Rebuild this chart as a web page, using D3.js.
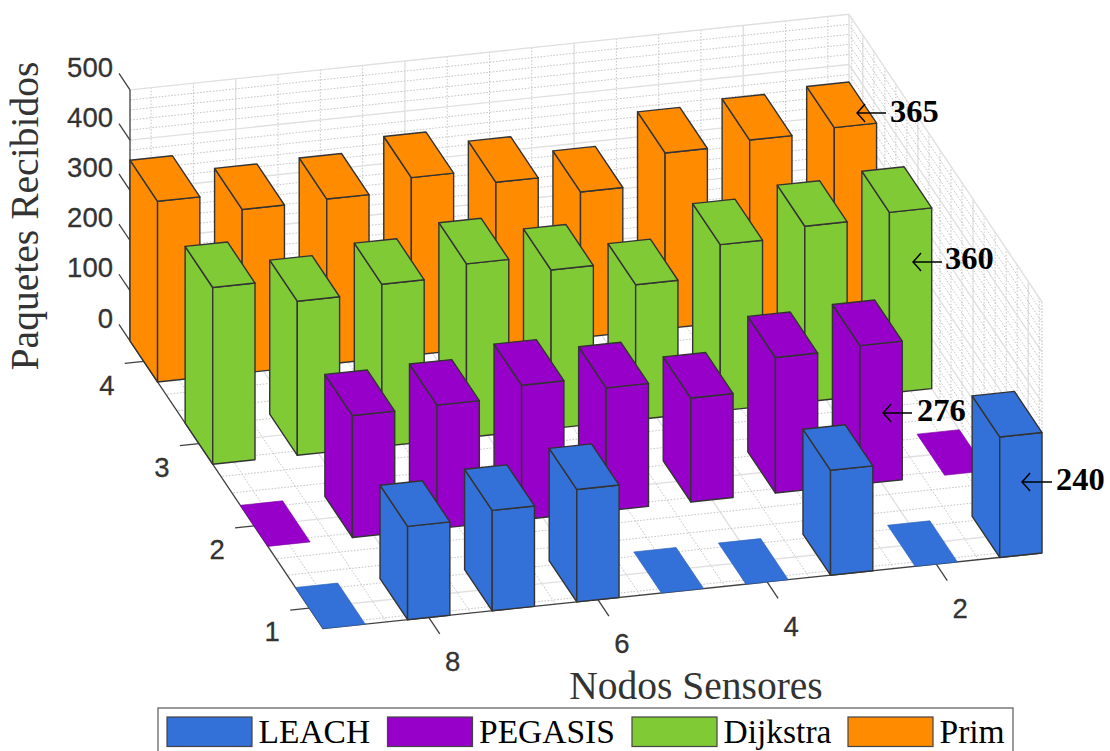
<!DOCTYPE html>
<html>
<head>
<meta charset="utf-8">
<script src="https://d3js.org/d3.v7.min.js"></script>
<style>
  html, body { margin: 0; padding: 0; background: #fff; overflow: hidden; }
  svg { display: block; }
</style>
</head>
<body>
<div class="chart"></div>
<script>
// Data, columns run x = 1..9 (right to left in the picture)
const xCategories = [1, 2, 3, 4, 5, 6, 7, 8, 9];
const xTickLabels = [2, 4, 6, 8];
const yTickLabels = [1, 2, 3, 4];
const zTickLabels = [0, 100, 200, 300, 400, 500];
const seriesNames = ["LEACH", "PEGASIS", "Dijkstra", "Prim"];
const leach    = [240, 0, 209, 0, 0, 224, 200, 186, 0];
const pegasis  = [0, 276, 270, 207, 245, 268, 246, 243, 0];
const dijkstra = [360, 350, 331, 269, 316, 346, 323, 307, 352];
const prim     = [365, 358, 350, 290, 327, 354, 329, 326, 360];
const notes    = ["365", "360", "276", "240"];

const colors = ["#3371d8", "#9700c8", "#80cb35", "#ff8c00"];
const edge = "#333";
const width = 1110, height = 751;

// Oblique projection, three scales give the screen offset of each data axis
const ox = 1042, oy = 553;
const xToPx = d3.scaleLinear().domain([0.75, 9.25]).range([0, -719]);
const xToPy = d3.scaleLinear().domain([0.75, 9.25]).range([0, 75.6]);
const yToPx = d3.scaleLinear().domain([0.75, 4.25]).range([0, -193]);
const yToPy = d3.scaleLinear().domain([0.75, 4.25]).range([0, -287.7]);
const zToPy = d3.scaleLinear().domain([0, 500]).range([0, -251]);

const project = (x, y, z) => [ox + xToPx(x) + yToPx(y), oy + xToPy(x) + yToPy(y) + zToPy(z)];
const poly = d3.line();

const svg = d3.select(".chart").append("svg")
    .attr("width", width)
    .attr("height", height);

// Grid on floor, back wall and side wall
const grid = svg.append("g").attr("fill", "none");

function gridLine(a, b, major) {
    grid.append("path")
        .attr("d", poly([a, b]))
        .attr("stroke", major ? "#e0e0e0" : "#c6c6c6")
        .attr("stroke-width", major ? 1.4 : 1)
        .attr("stroke-dasharray", major ? null : "1.6,1.6");
}

const xGrid = d3.range(1, 9.25, 0.5);
const yGrid = d3.range(0.8, 4.25, 0.2).map(d => Math.round(d * 10) / 10);
const zGrid = d3.range(0, 501, 20);

xGrid.forEach(x => {
    const major = x % 2 === 0;
    gridLine(project(x, 0.75, 0), project(x, 4.25, 0), major);
    gridLine(project(x, 4.25, 0), project(x, 4.25, 500), major);
});
yGrid.forEach(y => {
    const major = Number.isInteger(y);
    gridLine(project(0.75, y, 0), project(9.25, y, 0), major);
    gridLine(project(0.75, y, 0), project(0.75, y, 500), major);
});
zGrid.forEach(z => {
    const major = z % 100 === 0;
    gridLine(project(9.25, 4.25, z), project(0.75, 4.25, z), major);
    gridLine(project(0.75, 4.25, z), project(0.75, 0.75, z), major);
});
gridLine(project(0.75, 4.25, 0), project(0.75, 4.25, 500), true);
gridLine(project(0.75, 0.75, 0), project(0.75, 0.75, 500), false);

// Axis lines and ticks
const axis = svg.append("g").attr("fill", "none").attr("stroke", "#404040").attr("stroke-width", 1.3);
axis.append("path").attr("d", poly([project(0.75, 0.75, 0), project(9.25, 0.75, 0), project(9.25, 4.25, 0), project(9.25, 4.25, 500)]));

const tickLabel = svg.append("g")
    .attr("font-family", "'Liberation Sans', Arial, sans-serif")
    .attr("font-size", 27.5)
    .attr("fill", "#333")
    .attr("stroke", "#333")
    .attr("stroke-width", 0.3);

zTickLabels.forEach(z => {
    const p = project(9.25, 4.25, z);
    axis.append("path").attr("d", poly([p, project(9.25, 4.45, z)]));
    tickLabel.append("text").attr("x", p[0] - 17).attr("y", p[1] - 23).attr("dy", "0.35em")
        .attr("text-anchor", "end").text(z);
});
yTickLabels.forEach(y => {
    const p = project(9.25, y, 0);
    axis.append("path").attr("d", poly([p, project(9.475, y, 0)]));
    tickLabel.append("text").attr("x", p[0] - 37).attr("y", p[1] + 23.5).attr("dy", "0.35em")
        .attr("text-anchor", "middle").text(y);
});
xTickLabels.forEach(x => {
    const p = project(x, 0.75, 0);
    axis.append("path").attr("d", poly([p, project(x, 0.55, 0)]));
    tickLabel.append("text").attr("x", p[0] + 24).attr("y", p[1] + 44).attr("dy", "0.35em")
        .attr("text-anchor", "middle").text(x);
});

// Bars, back row first so the front rows cover it
const half = 0.25;
const rows = [leach, pegasis, dijkstra, prim];
const bars = [];
rows.forEach((values, i) => {
    values.forEach((v, j) => bars.push({ row: i + 1, col: xCategories[j], value: v, color: colors[i] }));
});
bars.sort((a, b) => b.row - a.row || a.col - b.col);

const bar = svg.selectAll(".bar")
    .data(bars)
    .enter().append("g")
    .attr("class", "bar")
    .attr("fill", d => d.color)
    .attr("stroke", d => d.value > 0 ? edge : d3.color(d.color).darker(0.6))
    .attr("stroke-width", d => d.value > 0 ? 1.4 : 0.6)
    .attr("stroke-linejoin", "round");

const facePoints = {
    top: d => [project(d.col - half, d.row - half, d.value), project(d.col + half, d.row - half, d.value),
               project(d.col + half, d.row + half, d.value), project(d.col - half, d.row + half, d.value)],
    front: d => [project(d.col - half, d.row - half, 0), project(d.col + half, d.row - half, 0),
                 project(d.col + half, d.row - half, d.value), project(d.col - half, d.row - half, d.value)],
    side: d => [project(d.col + half, d.row - half, 0), project(d.col + half, d.row + half, 0),
                project(d.col + half, d.row + half, d.value), project(d.col + half, d.row - half, d.value)]
};
["side", "front", "top"].forEach(face => {
    bar.filter(d => d.value > 0 || face === "top")
        .append("path")
        .attr("d", d => poly(facePoints[face](d)) + "Z");
});

// Axis titles
const serif = "'Liberation Serif', 'Times New Roman', serif";
svg.append("text")
    .attr("transform", "translate(38,216) rotate(-90)")
    .attr("text-anchor", "middle")
    .attr("font-family", serif)
    .attr("font-size", 39.6)
    .attr("fill", "#333")
    .text("Paquetes Recibidos");
svg.append("text")
    .attr("x", 696).attr("y", 699)
    .attr("text-anchor", "middle")
    .attr("font-family", serif)
    .attr("font-size", 39.5)
    .attr("fill", "#333")
    .text("Nodos Sensores");

// Value callouts
const noteX = [890, 945, 917, 1056], noteY = [122, 269, 421, 490];
const tipX = [857, 913, 883, 1022], tailX = [886, 942, 912, 1052], tipY = [113, 262, 413, 482];
const note = svg.append("g");
notes.forEach((t, i) => {
    note.append("text")
        .attr("x", noteX[i]).attr("y", noteY[i])
        .attr("font-family", serif).attr("font-weight", "bold").attr("font-size", 32.5)
        .attr("fill", "#000").text(t);
    const tx = tipX[i], ty = tipY[i];
    note.append("path")
        .attr("d", `M${tailX[i]},${ty}H${tx}M${tx + 8},${ty - 9}Q${tx + 3},${ty - 3} ${tx},${ty}Q${tx + 3},${ty + 3} ${tx + 8},${ty + 9}`)
        .attr("fill", "none").attr("stroke", "#000").attr("stroke-width", 1.5);
});

// Legend, runs past the bottom of the picture like the original
const legend = svg.append("g");
legend.append("rect")
    .attr("x", 158).attr("y", 708).attr("width", 855).attr("height", 60)
    .attr("fill", "#fff").attr("stroke", "#666").attr("stroke-width", 1.3);
const swatchX = [167, 387.5, 632, 848];
seriesNames.forEach((name, i) => {
    legend.append("rect")
        .attr("x", swatchX[i]).attr("y", 717).attr("width", 85).attr("height", 29.5)
        .attr("fill", colors[i]).attr("stroke", "#444").attr("stroke-width", 1.2);
    legend.append("text")
        .attr("x", swatchX[i] + 91.5).attr("y", 743)
        .attr("font-family", serif).attr("font-size", 33.5).attr("fill", "#000")
        .text(name);
});
</script>
</body>
</html>
